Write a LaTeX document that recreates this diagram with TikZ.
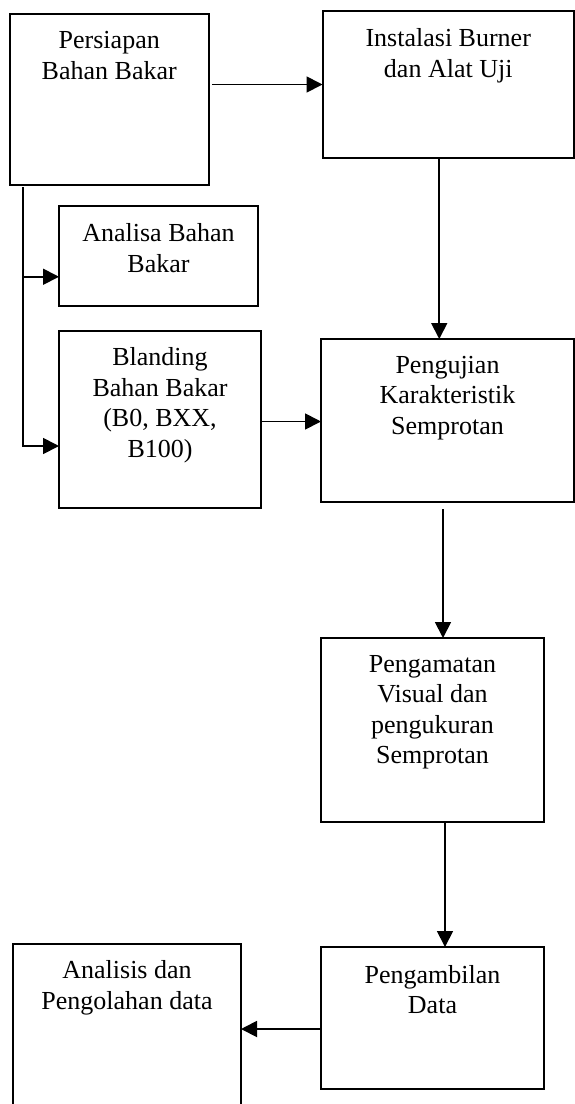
\documentclass[tikz,border=0pt]{standalone}
\usepackage{fontspec}
\setmainfont{Liberation Serif}
\usetikzlibrary{arrows.meta,calc}
\begin{document}
\begin{tikzpicture}[x=1pt,y=-1pt,
  box/.style={draw=black,line width=2pt,rectangle,inner sep=0pt,outer sep=0pt,fill=white},
  txt/.style={anchor=north,inner sep=0pt,align=center,font=\fontsize{26}{30.5}\selectfont},
  arr/.style={line width=1.8pt,-{Triangle[length=16pt,width=16pt]}},
  ln/.style={line width=1.8pt}]
\path[use as bounding box,clip] (0,0) rectangle (575,1104);
\fill[white] (0,0) rectangle (575,1104);
% boxes
\node[box,minimum width=199.5pt,minimum height=171pt] (p1) at (109.25,99.5) {};
\node[box,minimum width=251.5pt,minimum height=147pt] (inst) at (448.25,84.5) {};
\node[box,minimum width=199pt,minimum height=99.5pt] (an) at (158.5,255.75) {};
\node[box,minimum width=202pt,minimum height=177pt] (bl) at (160,419.5) {};
\node[box,minimum width=253pt,minimum height=163pt] (pj) at (447.5,420.5) {};
\node[box,minimum width=223pt,minimum height=184pt] (pm) at (432.5,730) {};
\node[box,minimum width=223pt,minimum height=142pt] (pd) at (432.5,1018) {};
\node[box,minimum width=228pt,minimum height=171pt] (ad) at (127,1029.5) {};
% texts
\node[txt] (p1t) at ([yshift=-17.5pt]p1.north) {Persiapan\\Bahan Bakar};
\node[txt] (instt) at ([yshift=-17.5pt]inst.north) {Instalasi Burner\\dan Alat Uji};
\node[txt] (ant) at ([yshift=-17.5pt]an.north) {Analisa Bahan\\Bakar};
\node[txt] (blt) at ([yshift=-16.5pt]bl.north) {Blanding\\Bahan Bakar\\(B0, BXX,\\B100)};
\node[txt] (pjt) at ([yshift=-17pt]pj.north) {Pengujian\\Karakteristik\\Semprotan};
\node[txt] (pmt) at ([yshift=-17pt]pm.north) {Pengamatan\\Visual dan\\pengukuran\\Semprotan};
\node[txt] (pdt) at ([yshift=-18pt]pd.north) {Pengambilan\\Data};
\node[txt] (adt) at ([yshift=-16.5pt]ad.north) {Analisis dan\\Pengolahan data};
% connectors
\draw[arr] ([xshift=3pt]p1.east |- inst.west) -- (inst.west);
\coordinate (t0) at ($(p1.south west)+(13.5,2)$);
\draw[ln] (t0) -- (t0 |- bl.west);
\draw[arr] (t0) |- ([yshift=-21pt]an.west);
\draw[arr] (t0) |- ([yshift=-26.5pt]bl.west);
\draw[arr] ([xshift=-9pt]inst.south) -- ([xshift=-9pt]inst.south |- pj.north);
\draw[arr] ([yshift=-2pt]bl.east) -- ([yshift=-2pt]bl.east -| pj.west);
\draw[arr] ([xshift=-4.5pt,yshift=-7pt]pj.south) -- ([xshift=-4.5pt]pj.south |- pm.north);
\draw[arr] ([xshift=12.5pt]pm.south) -- ([xshift=12.5pt]pm.south |- pd.north);
\draw[arr] ([yshift=-11pt]pd.west) -- ([yshift=-11pt]pd.west -| ad.east);
\end{tikzpicture}
\end{document}
